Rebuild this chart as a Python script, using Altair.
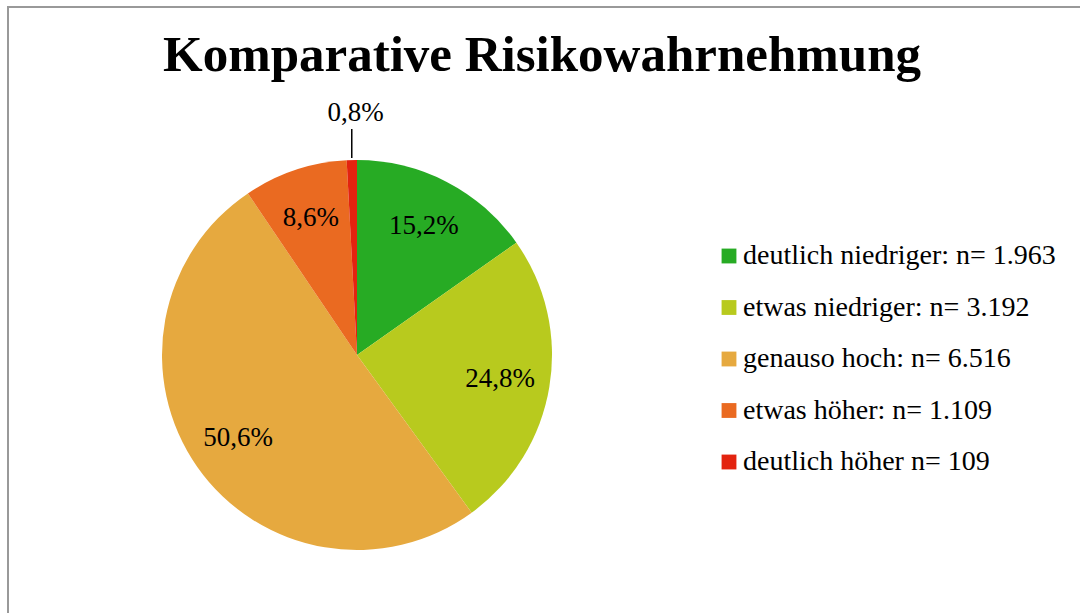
import altair as alt
import pandas as pd

title_text = "Komparative Risikowahrnehmung"
categories = ["deutlich niedriger", "etwas niedriger", "genauso hoch", "etwas höher", "deutlich höher"]
counts = [1963, 3192, 6516, 1109, 109]
legend_labels = [
    "deutlich niedriger: n= 1.963",
    "etwas niedriger: n= 3.192",
    "genauso hoch: n= 6.516",
    "etwas höher: n= 1.109",
    "deutlich höher n= 109",
]
colors = ["#27AB24", "#B8CA1E", "#E6A93F", "#EA6A21", "#E3230F"]

total = sum(counts)
pct = [f"{c / total * 100:.1f}".replace(".", ",") + "%" for c in counts]

df = pd.DataFrame({
    "idx": list(range(len(categories))),
    "cat": categories,
    "n": counts,
    "label": legend_labels,
    "pct": pct,
})
df["lab_in"] = [p if i < 4 else "" for i, p in enumerate(pct)]
df["lab_out"] = [p if i == 4 else "" for i, p in enumerate(pct)]

CX, CY, R = 357, 355, 195
FONT = "Liberation Serif"

base = alt.Chart(df)
theta = alt.Theta("n:Q", stack=True)
order = alt.Order("idx:Q")

arcs = base.mark_arc(radius=R).encode(
    theta=theta,
    order=order,
    x=alt.value(CX),
    y=alt.value(CY),
    color=alt.Color(
        "label:N",
        scale=alt.Scale(domain=legend_labels, range=colors),
        sort=legend_labels,
        legend=alt.Legend(
            orient="none", legendX=715, legendY=242, title=None,
            symbolType="square", symbolSize=220, symbolStrokeWidth=0,
            labelFont=FONT, labelFontSize=28, labelColor="black",
            labelLimit=500, rowPadding=23.5, labelOffset=0, padding=0,
        ),
    ),
)

labels_in = base.mark_text(radius=145, font=FONT, fontSize=27, color="black", baseline="middle").encode(
    theta=theta, order=order, x=alt.value(CX), y=alt.value(CY), text="lab_in:N"
)
labels_out = base.mark_text(radius=242, font=FONT, fontSize=27, color="black", baseline="middle",
                            dx=5).encode(
    theta=theta, order=order, x=alt.value(CX), y=alt.value(CY), text="lab_out:N"
)

leader = base.transform_joinaggregate(tot="sum(n)").transform_window(
    cum="sum(n)", sort=[alt.SortField("idx")], frame=[None, 0]
).transform_calculate(
    mid="(datum.cum - datum.n/2) / datum.tot * 2 * PI",
    lx=f"{CX} + {R + 2} * sin(datum.mid)",
    ly1=f"{CY} - {R + 2} * cos(datum.mid)",
    ly2=f"{CY} - 226 * cos(datum.mid)",
).transform_filter("datum.idx == 4").mark_rule(color="black", strokeWidth=1.5).encode(
    x=alt.X("lx:Q", scale=None), y=alt.Y("ly1:Q", scale=None), y2="ly2:Q"
)

title = alt.Chart(alt.Data(values=[{}])).mark_text(
    text=title_text, font=FONT, fontWeight="bold", fontSize=51,
    align="center", baseline="alphabetic", color="black",
).encode(x=alt.value(542), y=alt.value(71))

border = alt.Chart(alt.Data(values=[{}])).mark_rect(
    fill=None, stroke="#999999", strokeWidth=2
).encode(x=alt.value(8), y=alt.value(7), x2=alt.value(1200), y2=alt.value(800))

chart = alt.layer(border, arcs, leader, labels_in, labels_out, title).properties(
    width=1080, height=613, autosize=alt.AutoSizeParams(type="none"), padding=0
).configure_view(stroke=None)

chart.save("out.html", embed_options={"renderer": "svg", "actions": False})
